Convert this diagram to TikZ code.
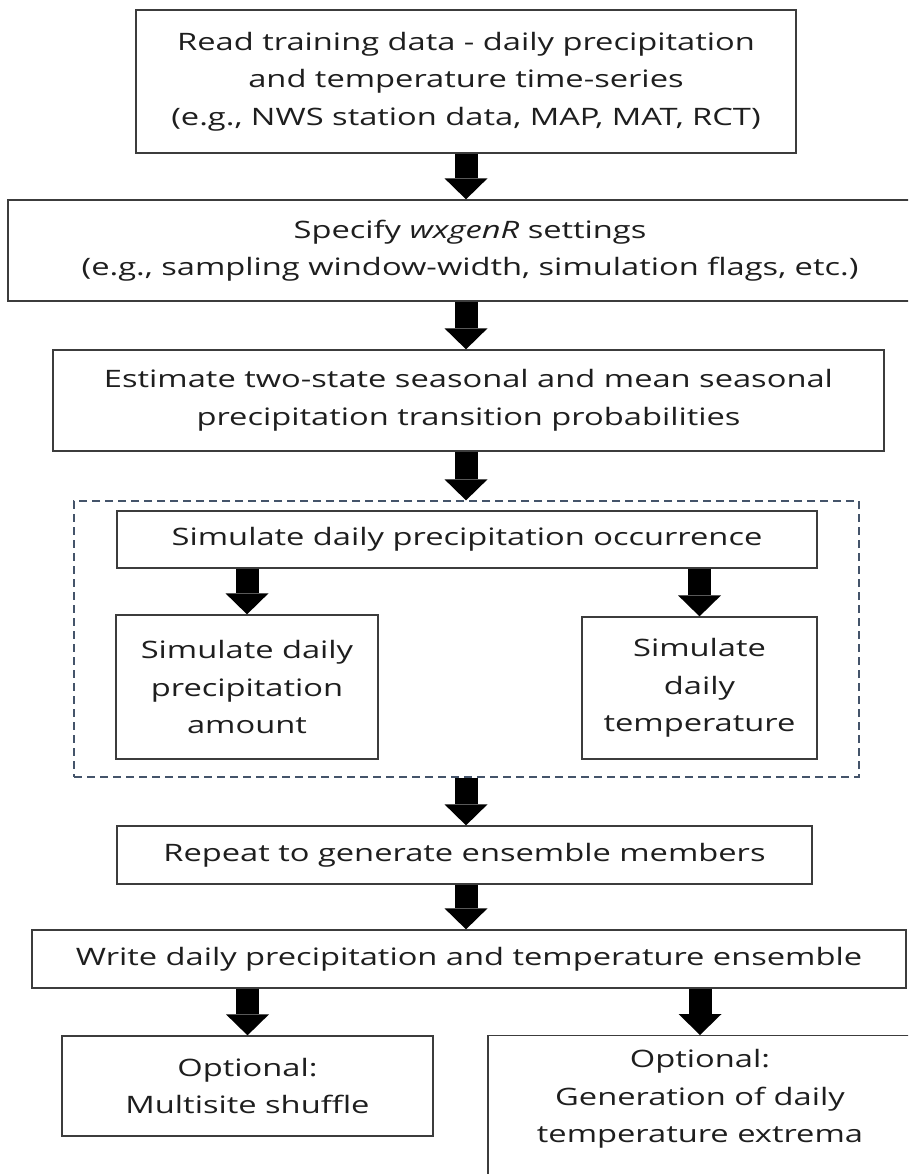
\documentclass[tikz,border=0pt]{standalone}
\usepackage{fontspec}
\setmainfont{Open Sans}[FakeStretch=1.36]
\usetikzlibrary{arrows.meta}
\definecolor{boxline}{RGB}{60,60,60}
\definecolor{groupline}{RGB}{68,84,106}
\definecolor{textgray}{RGB}{30,30,30}
\tikzset{
	stepbox/.style={draw=boxline, line width=1.3pt, text=textgray, align=center, inner sep=0pt, font=\fontsize{24}{37.5}\selectfont},
	groupbox/.style={draw=groupline, line width=1.3pt, dash pattern=on 8pt off 5pt, inner sep=0pt},
	blockarrow/.style={line width=23pt, -{Triangle[width=43pt,length=21pt,line width=0pt]}}
}

\begin{document}
\begin{tikzpicture}[x=1pt,y=-1pt]
	\useasboundingbox (0,0) rectangle (908,1174);
	\clip (0,0) rectangle (908,1174);
	% training data
	\node[stepbox, minimum width=660pt, minimum height=143pt] (read) at (466,81.5) {Read training data - daily precipitation\\and temperature time-series\\(e.g., NWS station data, MAP, MAT, RCT)};
	% settings
	\node[stepbox, minimum width=924pt, minimum height=101pt] (spec) at (470,250.5) {Specify \textit{wxgenR} settings\\(e.g., sampling window-width, simulation flags, etc.)};
	% transition probabilities
	\node[stepbox, minimum width=831pt, minimum height=101pt] (est) at (468.5,400.5) {Estimate two-state seasonal and mean seasonal\\precipitation transition probabilities};
	% simulation group
	\node[groupbox, minimum width=785pt, minimum height=276pt] (sim) at (466.5,639) {};
	\node[stepbox, minimum width=700pt, minimum height=57pt] (occ) at (467,539.5) {Simulate daily precipitation occurrence};
	\node[stepbox, minimum width=262pt, minimum height=144pt] (amount) at (247,687) {Simulate daily\\precipitation\\amount};
	\node[stepbox, minimum width=235pt, minimum height=142pt] (temp) at (699.5,688) {Simulate\\daily\\temperature};
	% ensemble
	\node[stepbox, minimum width=695pt, minimum height=58pt] (rep) at (464.5,855) {Repeat to generate ensemble members};
	\node[stepbox, minimum width=874pt, minimum height=58pt] (write) at (469,959) {Write daily precipitation and temperature ensemble};
	% optional steps
	\node[stepbox, minimum width=371pt, minimum height=100pt] (multi) at (247.5,1086) {Optional:\\Multisite shuffle};
	\node[stepbox, anchor=north, minimum width=424pt, inner ysep=14pt, text depth=50pt] (gen) at (700,1035) {Optional:\\Generation of daily\\temperature extrema};
	% arrows
	\draw[blockarrow] (read.south) -- (read.south |- spec.north);
	\draw[blockarrow] (read.south |- spec.south) -- (read.south |- est.north);
	\draw[blockarrow] (read.south |- est.south) -- (read.south |- sim.north);
	\draw[blockarrow] (amount.north |- occ.south) -- (amount.north);
	\draw[blockarrow] (temp.north |- occ.south) -- (temp.north);
	\draw[blockarrow] (read.south |- sim.south) -- (read.south |- rep.north);
	\draw[blockarrow] (read.south |- rep.south) -- (read.south |- write.north);
	\draw[blockarrow] (multi.north |- write.south) -- (multi.north);
	\draw[blockarrow] (gen.north |- write.south) -- (gen.north);
\end{tikzpicture}
\end{document}
